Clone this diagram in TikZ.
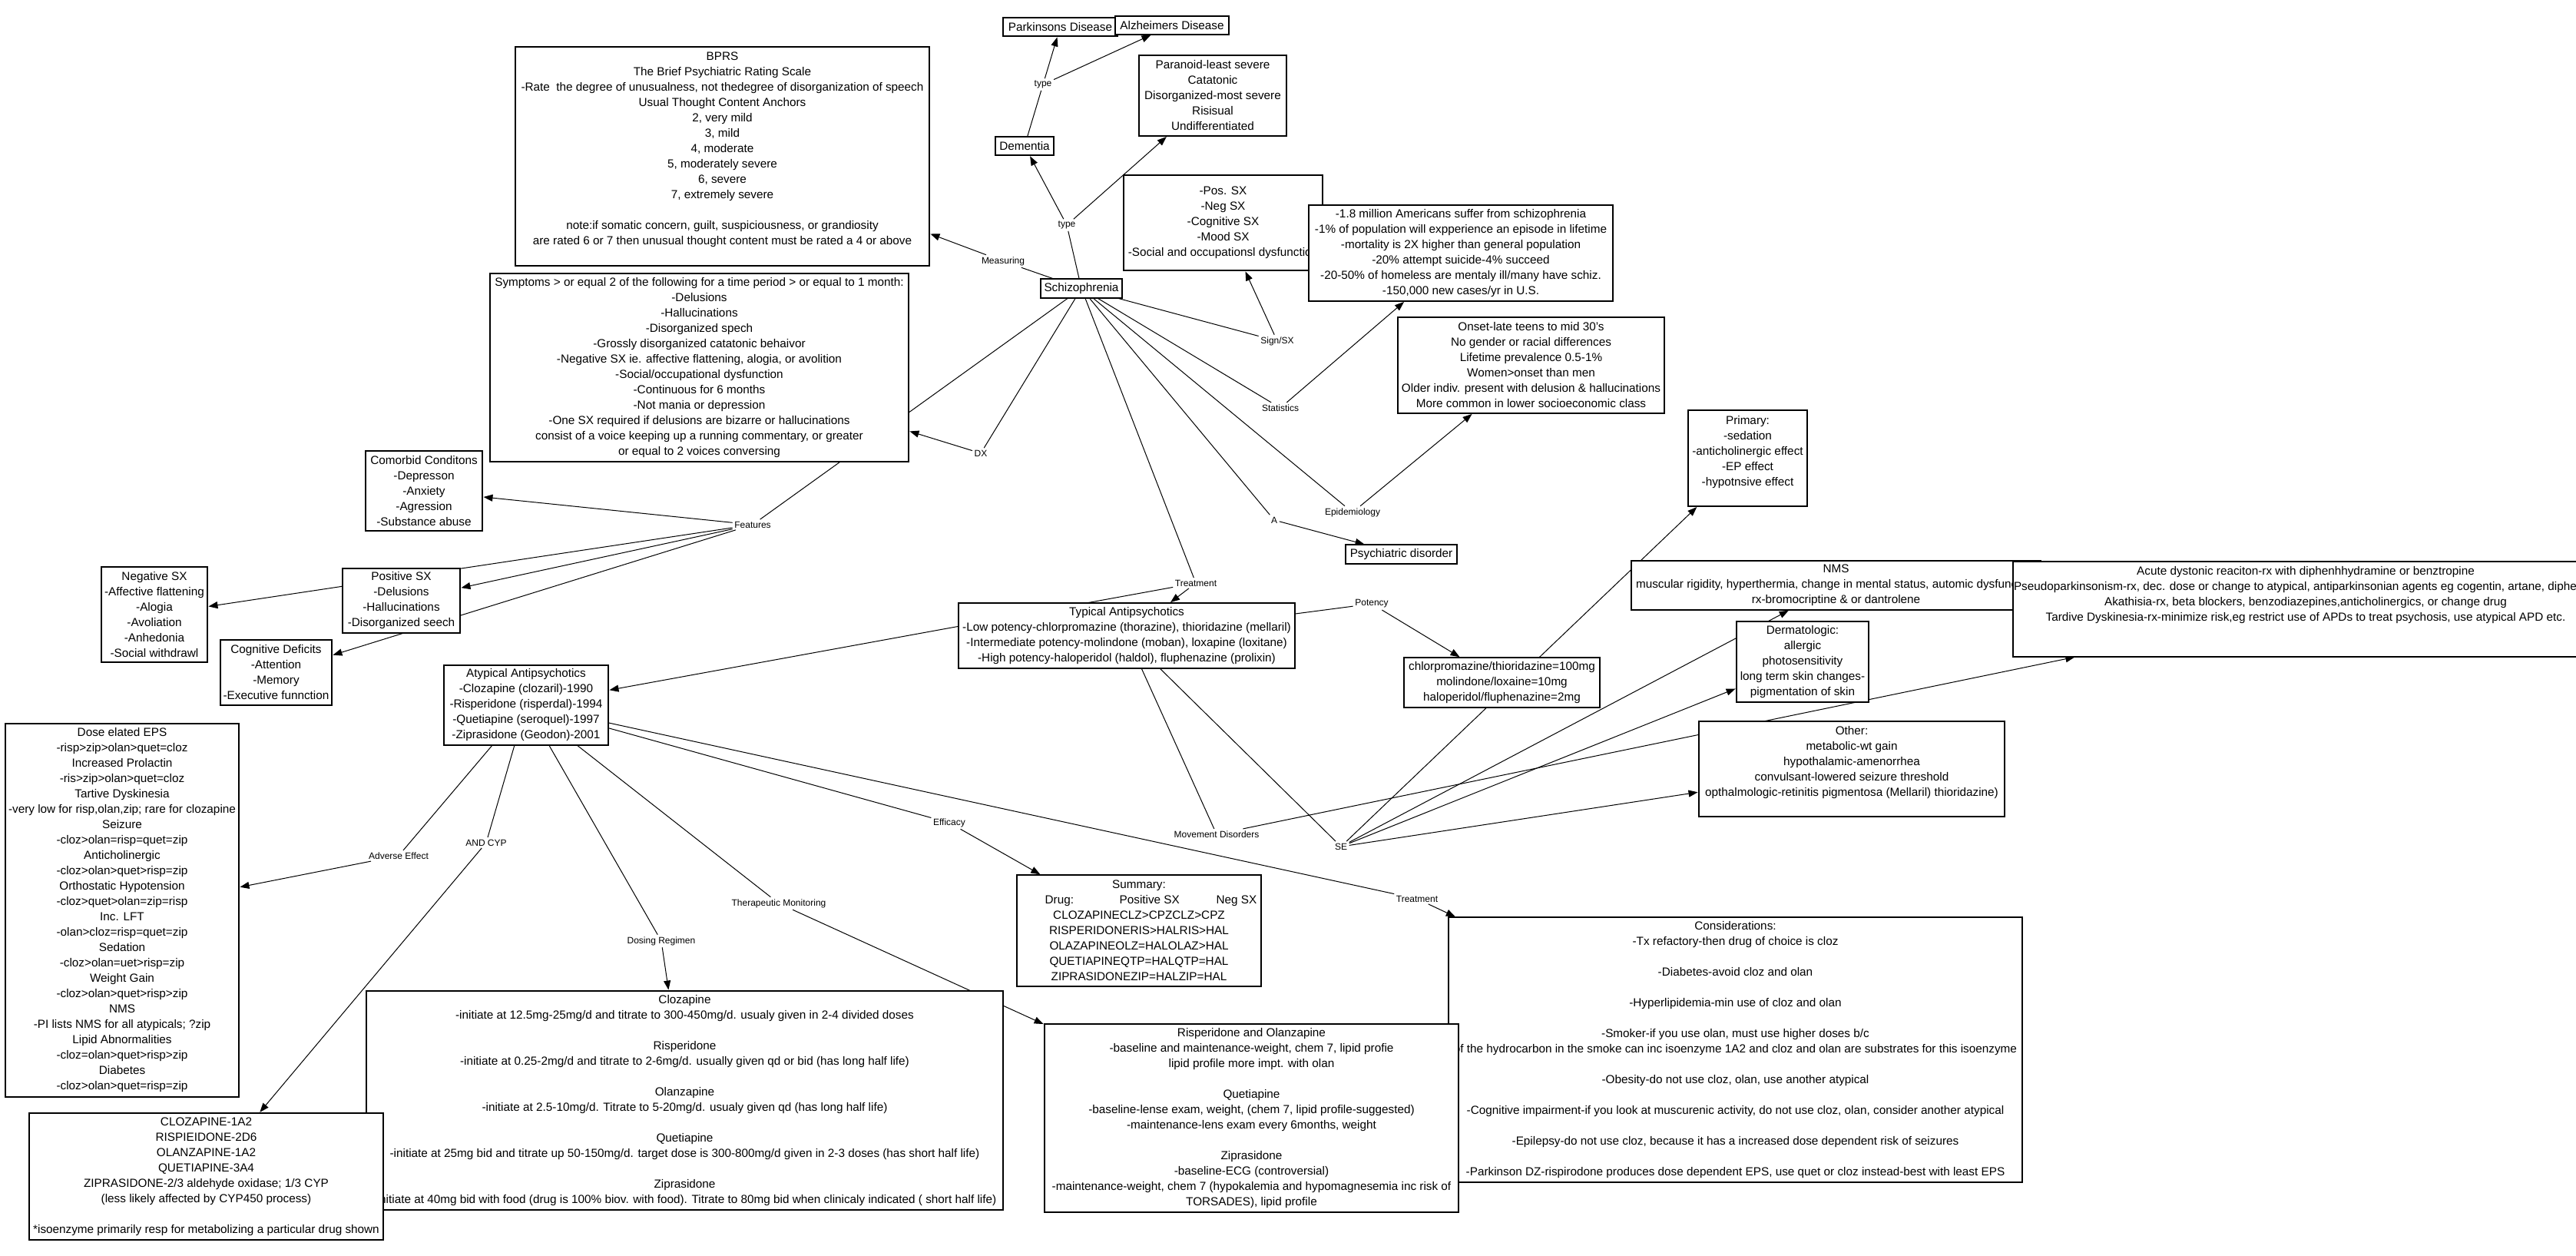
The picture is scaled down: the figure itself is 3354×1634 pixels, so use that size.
\documentclass[tikz,border=0pt]{standalone}
\usepackage{fontspec}
\setmainfont{Liberation Sans}
\usetikzlibrary{arrows.meta}
\pgfdeclarelayer{back}
\pgfdeclarelayer{bg}
\pgfsetlayers{back,bg,main}
\tikzset{
 cbox/.style={draw, line width=1.1pt, fill=white, inner sep=0pt, outer sep=0pt},
 ctext/.style={align=center, inner sep=0pt, font=\fontsize{15.3}{20}\selectfont},
 lab/.style={inner sep=2.5pt, font=\fontsize{12}{14}\selectfont},
 con/.style={line width=1pt},
 arr/.style={con, -{Triangle[length=12pt,width=9pt]}, shorten >=1.5pt},
}
\newcommand\cmbox[6]{%
 \node[cbox, minimum width={(#4-#2)*1pt}, minimum height={(#5-#3)*1pt}] (#1) at ({(#2+#4)/2},{(#3+#5)/2}) {};
 \node[ctext] (#1-t) at (#1.center) {#6};}
\begin{document}
\begin{tikzpicture}[x=1pt,y=-1pt]
\useasboundingbox (0,0) rectangle (3354,1634);
\begin{pgfonlayer}{back}
\fill[white] (0,0) rectangle (3354,1634);
\end{pgfonlayer}
% ---------- boxes ----------
\cmbox{bprs}{671}{61}{1210}{346}{BPRS\\ The Brief Psychiatric Rating Scale\\ -Rate\ \ the degree of unusualness, not thedegree of disorganization of speech\\ Usual Thought Content Anchors\\ 2, very mild\\ 3, mild\\ 4, moderate\\ 5, moderately severe\\ 6, severe\\ 7, extremely severe\\ \mbox{}\\ note:if somatic concern, guilt, suspiciousness, or grandiosity\\ are rated 6 or 7 then unusual thought content must be rated a 4 or above\\ \mbox{}}
\cmbox{symptoms}{638}{356}{1183}{601}{Symptoms > or equal 2 of the following for a time period > or equal to 1 month:\\ -Delusions\\ -Hallucinations\\ -Disorganized spech\\ -Grossly disorganized catatonic behaivor\\ -Negative SX ie. affective flattening, alogia, or avolition\\ -Social/occupational dysfunction\\ -Continuous for 6 months\\ -Not mania or depression\\ -One SX required if delusions are bizarre or hallucinations\\ consist of a voice keeping up a running commentary, or greater\\ or equal to 2 voices conversing}
\cmbox{comorbid}{476}{587}{628}{691}{Comorbid Conditons\\ -Depresson\\ -Anxiety\\ -Agression\\ -Substance abuse}
\cmbox{negative}{132}{738}{270}{862}{Negative SX\\ -Affective flattening\\ -Alogia\\ -Avoliation\\ -Anhedonia\\ -Social withdrawl}
\cmbox{positive}{446}{740}{599}{824}{Positive SX\\ -Delusions\\ -Hallucinations\\ -Disorganized seech}
\cmbox{cognitive}{287}{833}{432}{918}{Cognitive Deficits\\ -Attention\\ -Memory\\ -Executive funnction}
\cmbox{atypical}{578}{866}{792}{970}{Atypical Antipsychotics\\ -Clozapine (clozaril)-1990\\ -Risperidone (risperdal)-1994\\ -Quetiapine (seroquel)-1997\\ -Ziprasidone (Geodon)-2001}
\cmbox{typical}{1248}{785}{1686}{870}{Typical Antipsychotics\\ -Low potency-chlorpromazine (thorazine), thioridazine (mellaril)\\ -Intermediate potency-molindone (moban), loxapine (loxitane)\\ -High potency-haloperidol (haldol), fluphenazine (prolixin)}
\cmbox{summary}{1324}{1139}{1642}{1284}{Summary:\\ \hspace*{31pt}\makebox[97pt][l]{Drug:}\makebox[126pt][l]{Positive SX}Neg SX\\ CLOZAPINECLZ>CPZCLZ>CPZ\\ RISPERIDONERIS>HALRIS>HAL\\ OLAZAPINEOLZ=HALOLAZ>HAL\\ QUETIAPINEQTP=HALQTP=HAL\\ ZIPRASIDONEZIP=HALZIP=HAL}
\cmbox{consid}{1886}{1194}{2633}{1539}{Considerations:\\ -Tx refactory-then drug of choice is cloz\\ \mbox{}\\ -Diabetes-avoid cloz and olan\\ \mbox{}\\ -Hyperlipidemia-min use of cloz and olan\\ \mbox{}\\ -Smoker-if you use olan, must use higher doses b/c\\ of the hydrocarbon in the smoke can inc isoenzyme 1A2 and cloz and olan are substrates for this isoenzyme\\ \mbox{}\\ -Obesity-do not use cloz, olan, use another atypical\\ \mbox{}\\ -Cognitive impairment-if you look at muscurenic activity, do not use cloz, olan, consider another atypical\\ \mbox{}\\ -Epilepsy-do not use cloz, because it has a increased dose dependent risk of seizures\\ \mbox{}\\ -Parkinson DZ-rispirodone produces dose dependent EPS, use quet or cloz instead-best with least EPS}
\cmbox{risp}{1360}{1333}{1899}{1578}{Risperidone and Olanzapine\\ -baseline and maintenance-weight, chem 7, lipid profie\\ lipid profile more impt. with olan\\ \mbox{}\\ Quetiapine\\ -baseline-lense exam, weight, (chem 7, lipid profile-suggested)\\ -maintenance-lens exam every 6months, weight\\ \mbox{}\\ Ziprasidone\\ -baseline-ECG (controversial)\\ -maintenance-weight, chem 7 (hypokalemia and hypomagnesemia inc risk of\\ TORSADES), lipid profile}
\cmbox{clozd}{477}{1290}{1306}{1575}{Clozapine\\ -initiate at 12.5mg-25mg/d and titrate to 300-450mg/d. usualy given in 2-4 divided doses\\ \mbox{}\\ Risperidone\\ -initiate at 0.25-2mg/d and titrate to 2-6mg/d. usually given qd or bid (has long half life)\\ \mbox{}\\ Olanzapine\\ -initiate at 2.5-10mg/d. Titrate to 5-20mg/d. usualy given qd (has long half life)\\ \mbox{}\\ Quetiapine\\ -initiate at 25mg bid and titrate up 50-150mg/d. target dose is 300-800mg/d given in 2-3 doses (has short half life)\\ \mbox{}\\ Ziprasidone\\ -initiate at 40mg bid with food (drug is 100\% biov. with food). Titrate to 80mg bid when clinicaly indicated ( short half life)}
\cmbox{cyp}{38}{1449}{499}{1614}{CLOZAPINE-1A2\\ RISPIEIDONE-2D6\\ OLANZAPINE-1A2\\ QUETIAPINE-3A4\\ ZIPRASIDONE-2/3 aldehyde oxidase; 1/3 CYP\\ (less likely affected by CYP450 process)\\ \mbox{}\\ *isoenzyme primarily resp for metabolizing a particular drug shown}
\cmbox{dose}{7}{942}{311}{1428}{Dose elated EPS\\ -risp>zip>olan>quet=cloz\\ Increased Prolactin\\ -ris>zip>olan>quet=cloz\\ Tartive Dyskinesia\\ -very low for risp,olan,zip; rare for clozapine\\ Seizure\\ -cloz>olan=risp=quet=zip\\ Anticholinergic\\ -cloz>olan>quet>risp=zip\\ Orthostatic Hypotension\\ -cloz>quet>olan=zip=risp\\ Inc. LFT\\ -olan>cloz=risp=quet=zip\\ Sedation\\ -cloz>olan=uet>risp=zip\\ Weight Gain\\ -cloz>olan>quet>risp>zip\\ NMS\\ -PI lists NMS for all atypicals; ?zip\\ Lipid Abnormalities\\ -cloz=olan>quet>risp>zip\\ Diabetes\\ -cloz>olan>quet=risp=zip}
\cmbox{schiz}{1355}{363}{1461}{388}{Schizophrenia}
\cmbox{dementia}{1296}{178}{1372}{202}{Dementia}
\cmbox{parkinsons}{1306}{23}{1455}{47}{Parkinsons Disease}
\cmbox{alzheimers}{1452}{21}{1600}{45}{Alzheimers Disease}
\cmbox{paranoid}{1483}{72}{1675}{177}{Paranoid-least severe\\ Catatonic\\ Disorganized-most severe\\ Risisual\\ Undifferentiated}
\cmbox{possx}{1463}{228}{1722}{352}{-Pos. SX\\ -Neg SX\\ -Cognitive SX\\ -Mood SX\\ -Social and occupationsl dysfunction}
\cmbox{stats}{1704}{267}{2100}{392}{-1.8 million Americans suffer from schizophrenia\\ -1\% of population will expperience an episode in lifetime\\ -mortality is 2X higher than general population\\ -20\% attempt suicide-4\% succeed\\ -20-50\% of homeless are mentaly ill/many have schiz.\\ -150,000 new cases/yr in U.S.}
\cmbox{onset}{1820}{413}{2167}{538}{Onset-late teens to mid 30's\\ No gender or racial differences\\ Lifetime prevalence 0.5-1\%\\ Women>onset than men\\ Older indiv. present with delusion \& hallucinations\\ More common in lower socioeconomic class}
\cmbox{psych}{1752}{709}{1897}{734}{Psychiatric disorder}
\cmbox{primary}{2198}{534}{2353}{659}{Primary:\\ -sedation\\ -anticholinergic effect\\ -EP effect\\ -hypotnsive effect\\ \mbox{}}
\cmbox{chlor}{1828}{856}{2083}{921}{chlorpromazine/thioridazine=100mg\\ molindone/loxaine=10mg\\ haloperidol/fluphenazine=2mg}
\cmbox{nms}{2124}{730}{2657}{794}{NMS\\ muscular rigidity, hyperthermia, change in mental status, automic dysfunction\\ rx-bromocriptine \& or dantrolene}
\cmbox{acute}{2621}{731}{3383}{855}{Acute dystonic reaciton-rx with diphenhhydramine or benztropine\\ \makebox[760pt][l]{Pseudoparkinsonism-rx, dec. dose or change to atypical, antiparkinsonian agents eg cogentin, artane, diphenhydramine}\\ Akathisia-rx, beta blockers, benzodiazepines,anticholinergics, or change drug\\ Tardive Dyskinesia-rx-minimize risk,eg restrict use of APDs to treat psychosis, use atypical APD etc.\\ \mbox{}\\ \mbox{}}
\cmbox{derm}{2261}{809}{2433}{914}{Dermatologic:\\ allergic\\ photosensitivity\\ long term skin changes-\\ pigmentation of skin}
\cmbox{other}{2212}{939}{2610}{1063}{Other:\\ metabolic-wt gain\\ hypothalamic-amenorrhea\\ convulsant-lowered seizure threshold\\ opthalmologic-retinitis pigmentosa (Mellaril) thioridazine)\\ \mbox{}}
% ---------- linking phrases ----------
\node[lab] (type1) at (1358,110) {type};
\node[lab] (type2) at (1389,293) {type};
\node[lab] (measuring) at (1306,340) {Measuring};
\node[lab] (signsx) at (1663,444) {Sign/SX};
\node[lab] (statistics) at (1667,531) {Statistics};
\node[lab] (epidem) at (1761,667) {Epidemiology};
\node[lab] (alab) at (1659,677) {A};
\node[lab] (treat1) at (1557,759) {Treatment};
\node[lab] (dx) at (1277,590) {DX};
\node[lab] (features) at (980,683) {Features};
\node[lab] (potency) at (1786,786) {Potency};
\node[lab] (movement) at (1584,1086) {Movement Disorders};
\node[lab] (se) at (1746,1102) {SE};
\node[lab] (adverse) at (519,1114) {Adverse Effect};
\node[lab] (andcyp) at (633,1097) {AND CYP};
\node[lab] (dosing) at (861,1225) {Dosing Regimen};
\node[lab] (therap) at (1014,1176) {Therapeutic Monitoring};
\node[lab] (efficacy) at (1236,1071) {Efficacy};
\node[lab] (treat2) at (1845,1170) {Treatment};
% ---------- connectors ----------
\begin{pgfonlayer}{bg}
\draw[con] (schiz) -- (type2);
\draw[arr] (type2) -- (dementia);
\draw[arr] (type2) -- (paranoid);
\draw[con] (dementia) -- (type1);
\draw[arr] (type1) -- (parkinsons);
\draw[arr] (type1) -- (alzheimers);
\draw[con] (schiz) -- (measuring);
\draw[arr] (measuring) -- (bprs);
\draw[con] (schiz) -- (signsx);
\draw[arr] (signsx) -- (possx);
\draw[con] (schiz) -- (statistics);
\draw[arr] (statistics) -- (stats);
\draw[con] (schiz) -- (epidem);
\draw[arr] (epidem) -- (onset);
\draw[con] (schiz) -- (alab);
\draw[arr] (alab) -- (psych);
\draw[con] (schiz) -- (treat1);
\draw[arr] (treat1) -- (typical);
\draw[arr] (treat1) -- (atypical);
\draw[con] (schiz) -- (dx);
\draw[arr] (dx) -- (symptoms);
\draw[con] (schiz) -- (features);
\draw[arr] (features) -- (comorbid);
\draw[arr] (features) -- (negative);
\draw[arr] (features) -- (positive);
\draw[arr] (features) -- (cognitive);
\draw[con] (atypical) -- (adverse);
\draw[arr] (adverse) -- (dose);
\draw[con] (atypical) -- (andcyp);
\draw[arr] (andcyp) -- (cyp);
\draw[con] (atypical) -- (dosing);
\draw[arr] (dosing) -- (clozd);
\draw[con] (atypical) -- (therap);
\draw[arr] (therap) -- (risp);
\draw[con] (atypical) -- (efficacy);
\draw[arr] (efficacy) -- (summary);
\draw[con] (atypical) -- (treat2);
\draw[arr] (treat2) -- (consid);
\draw[con] (typical) -- (potency);
\draw[arr] (potency) -- (chlor);
\draw[con] (typical) -- (movement);
\draw[arr] (movement) -- (acute);
\draw[con] (typical) -- (se);
\draw[arr] (se) -- (primary);
\draw[arr] (se) -- (nms);
\draw[arr] (se) -- (derm);
\draw[arr] (se) -- (other);
\end{pgfonlayer}
\end{tikzpicture}
\end{document}
